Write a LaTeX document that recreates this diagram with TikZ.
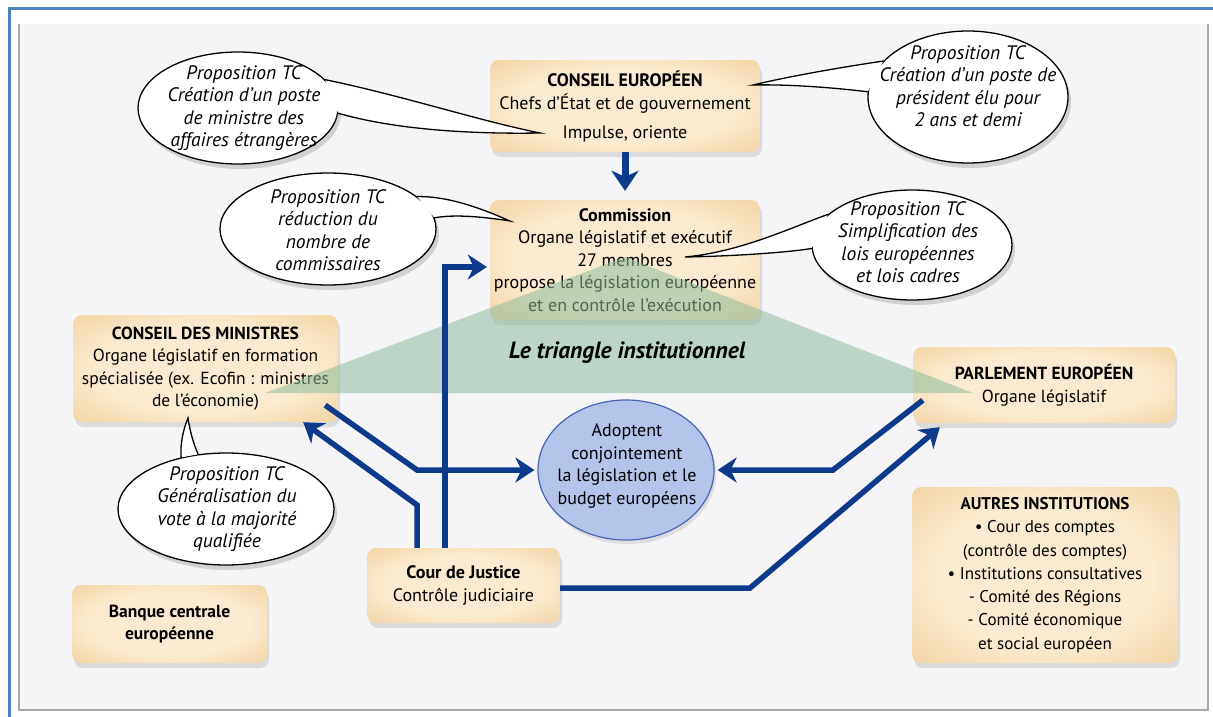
\documentclass[tikz,border=0pt]{standalone}
\usepackage{fontspec}
\setmainfont{PT Sans}
\usetikzlibrary{shapes.geometric,arrows.meta,shadows,calc}
\definecolor{navy}{HTML}{0E3A8C}
\definecolor{tanin}{HTML}{FAEBD0}
\definecolor{tanout}{HTML}{EAC27F}
\definecolor{frameblue}{HTML}{4F81BD}
\definecolor{trigreen}{HTML}{8FBC9E}
\definecolor{blobfill}{HTML}{B4C3EA}
\definecolor{blobline}{HTML}{4A64B4}
\definecolor{pagebg}{HTML}{F5F5F7}
\definecolor{pageline}{HTML}{A8A8A8}
\pgfdeclareradialshading[tanin,tanout]{glow}{\pgfpoint{0bp}{0bp}}{color(0bp)=(tanin); color(20bp)=(tanin); color(48bp)=(tanout); color(100bp)=(tanout)}
\begin{document}
\begin{tikzpicture}[x=1pt,y=-1pt,
 inst/.style={rectangle, rounded corners=9pt, shade, shading=glow, align=center, inner sep=0pt, font=\fontsize{17.5}{22.5}\selectfont, drop shadow={opacity=0.22, shadow xshift=2pt, shadow yshift=-5pt}},
 callout/.style={ellipse, draw=black, line width=1.3pt, fill=white, inner sep=0pt, drop shadow={opacity=0.3, shadow xshift=3pt, shadow yshift=-5pt}},
 callouttext/.style={align=center, inner sep=0pt, font=\itshape\fontsize{19.5}{22.5}\selectfont},
 tailline/.style={draw=black, line width=1.3pt, line cap=round},
 conn/.style={draw=navy, line width=5.5pt, line join=miter, -{Stealth[length=19pt,width=25pt,inset=6pt]}},
]
\useasboundingbox (0,0) rectangle (1213,717);
\fill[white] (0,0) rectangle (1213,717);
\fill[pagebg] (19,24) rectangle (1208,710);
\draw[pageline, line width=1.2pt] (19,24) -- (19,710) -- (1208,710) -- (1208,24);
\draw[frameblue, line width=3pt] (9,717) -- (9,9) -- (1213,9);

% institutions
\node[inst, minimum width=270pt, minimum height=92pt, font=\fontsize{18}{23}\selectfont] (ce) at (625,106) {\textbf{CONSEIL EUROPÉEN}\\Chefs d'État et de gouvernement\\[6pt]Impulse, oriente};
\node[inst, minimum width=270pt, minimum height=120pt, font=\fontsize{18}{22.5}\selectfont] (com) at (625,260) {\textbf{Commission}\\Organe législatif et exécutif\\27 membres\\propose la législation européenne\\et en contrôle l'exécution};
\node[inst, minimum width=265pt, minimum height=107pt] (cdm) at (205.5,368.5) {\textbf{CONSEIL DES MINISTRES}\\Organe législatif en formation\\spécialisée (ex. Ecofin : ministres\\de l'économie)};
\node[inst, minimum width=262pt, minimum height=76pt] (pe) at (1044,385) {\textbf{PARLEMENT EUROPÉEN}\\Organe législatif};
\node[inst, minimum width=266pt, minimum height=176pt, font=\fontsize{17}{23.3}\selectfont] (ai) at (1045,575) {\textbf{AUTRES INSTITUTIONS}\\• Cour des comptes\\(contrôle des comptes)\\• Institutions consultatives\\- Comité des Régions\\- Comité économique\\et social européen};
\node[inst, minimum width=195pt, minimum height=78pt] (bce) at (169.5,624) {\textbf{Banque centrale}\\\textbf{européenne}};
\node[inst, minimum width=193pt, minimum height=75pt, font=\fontsize{18}{22.5}\selectfont] (cj) at (463.5,585.5) {\textbf{Cour de Justice}\\Contrôle judiciaire};

% triangle
\fill[trigreen, opacity=0.55] (265,393) -- (625,257) -- (973,393) -- cycle;
\node[font=\bfseries\itshape\fontsize{23.5}{26}\selectfont, inner sep=0pt] (trilabel) at (627,353) {Le triangle institutionnel};

% central ellipse
\node[ellipse, fill=blobfill, draw=blobline, line width=1.2pt, minimum width=176pt, minimum height=140pt, inner sep=0pt, drop shadow={opacity=0.2, shadow xshift=2pt, shadow yshift=-4pt}] (blob) at (626,470) {};
\node[align=center, inner sep=0pt, font=\fontsize{18}{22.5}\selectfont] (blobt) at (627,466) {Adoptent\\conjointement\\la législation et le\\budget européens};

% connectors
\draw[conn, line width=7pt, -{Stealth[length=20pt,width=27pt,inset=6pt]}] (ce.south) -- ([yshift=9pt]com.north);
\coordinate (cjA) at (cj.north -| 445,0);
\coordinate (comL) at ($(com.west |- 0,267)+(-3,0)$);
\draw[conn] (cjA) |- (comL);
\coordinate (cdmO) at ($(cdm.south east)+(-13,-17)$);
\coordinate (b1) at (417,470);
\coordinate (blobL) at ($(blob.west)+(-3,0)$);
\draw[conn] (cdmO) -- (b1) -- (blobL);
\coordinate (cjB) at (cj.north -| 417,0);
\coordinate (b2) at (417,505);
\coordinate (cdmIn) at ($(cdm.south east)+(-35,0)$);
\draw[conn] (cjB) -- (b2) -- (cdmIn);
\coordinate (peO) at ($(pe.south west)+(10,-23)$);
\coordinate (b3) at (833,470);
\coordinate (blobR) at ($(blob.east)+(3,0)$);
\draw[conn] (peO) -- (b3) -- (blobR);
\coordinate (cjR) at (cj.east |- 0,588);
\coordinate (b4) at (750,588);
\coordinate (peIn) at ($(pe.south west)+(27,4)$);
\draw[conn] (cjR) -- (b4) -- (peIn);

% callout 1
\node[callout, minimum width=200pt, minimum height=112pt] (e1) at (238,108) {};
\coordinate (t1) at (540,133);
\fill[white] (e1.18) .. controls (400,95) and (480,121) .. (t1) .. controls (480,134) and (400,131) .. (e1.-3) -- cycle;
\draw[tailline] (e1.18) .. controls (400,95) and (480,121) .. (t1) .. controls (480,134) and (400,131) .. (e1.-3);
\node[callouttext] (e1t) at (244,108) {Proposition TC\\Création d'un poste\\de ministre des\\affaires étrangères};

% callout 2
\node[callout, minimum width=200pt, minimum height=132pt] (e2) at (968,97) {};
\coordinate (t2) at (753,85);
\fill[white] (e2.157) .. controls (850,66) and (795,75) .. (t2) .. controls (795,84) and (845,89) .. (e2.177) -- cycle;
\draw[tailline] (e2.157) .. controls (850,66) and (795,75) .. (t2) .. controls (795,84) and (845,89) .. (e2.177);
\node[callouttext] (e2t) at (968,86) {Proposition TC\\Création d'un poste de\\président élu pour\\2 ans et demi};

% callout 3
\node[callout, minimum width=216pt, minimum height=112pt] (e3) at (328,229) {};
\coordinate (t3) at (510,221);
\fill[white] (e3.20) .. controls (450,196) and (485,210) .. (t3) .. controls (485,217) and (455,214) .. (e3.6) -- cycle;
\draw[tailline] (e3.20) .. controls (450,196) and (485,210) .. (t3) .. controls (485,217) and (455,214) .. (e3.6);
\node[callouttext] (e3t) at (328,230) {Proposition TC\\réduction du\\nombre de\\commissaires};

% callout 4
\node[callout, minimum width=200pt, minimum height=110pt] (e4) at (912,245) {};
\coordinate (t4) at (685,257);
\fill[white] (e4.160) .. controls (790,228) and (740,252) .. (t4) .. controls (740,256) and (790,252) .. (e4.182) -- cycle;
\draw[tailline] (e4.160) .. controls (790,228) and (740,252) .. (t4) .. controls (740,256) and (790,252) .. (e4.182);
\node[callouttext] (e4t) at (908,242) {Proposition TC\\Simplification des\\lois européennes\\et lois cadres};

% callout 5
\node[callout, minimum width=216pt, minimum height=112pt] (e5) at (226,509) {};
\coordinate (t5) at (188,418);
\fill[white] (e5.131) .. controls (180,445) and (183,430) .. (t5) .. controls (190,432) and (194,445) .. (e5.117) -- cycle;
\draw[tailline] (e5.131) .. controls (180,445) and (183,430) .. (t5) .. controls (190,432) and (194,445) .. (e5.117);
\node[callouttext] (e5t) at (227,509) {Proposition TC\\Généralisation du\\vote à la majorité\\qualifiée};
\end{tikzpicture}
\end{document}
